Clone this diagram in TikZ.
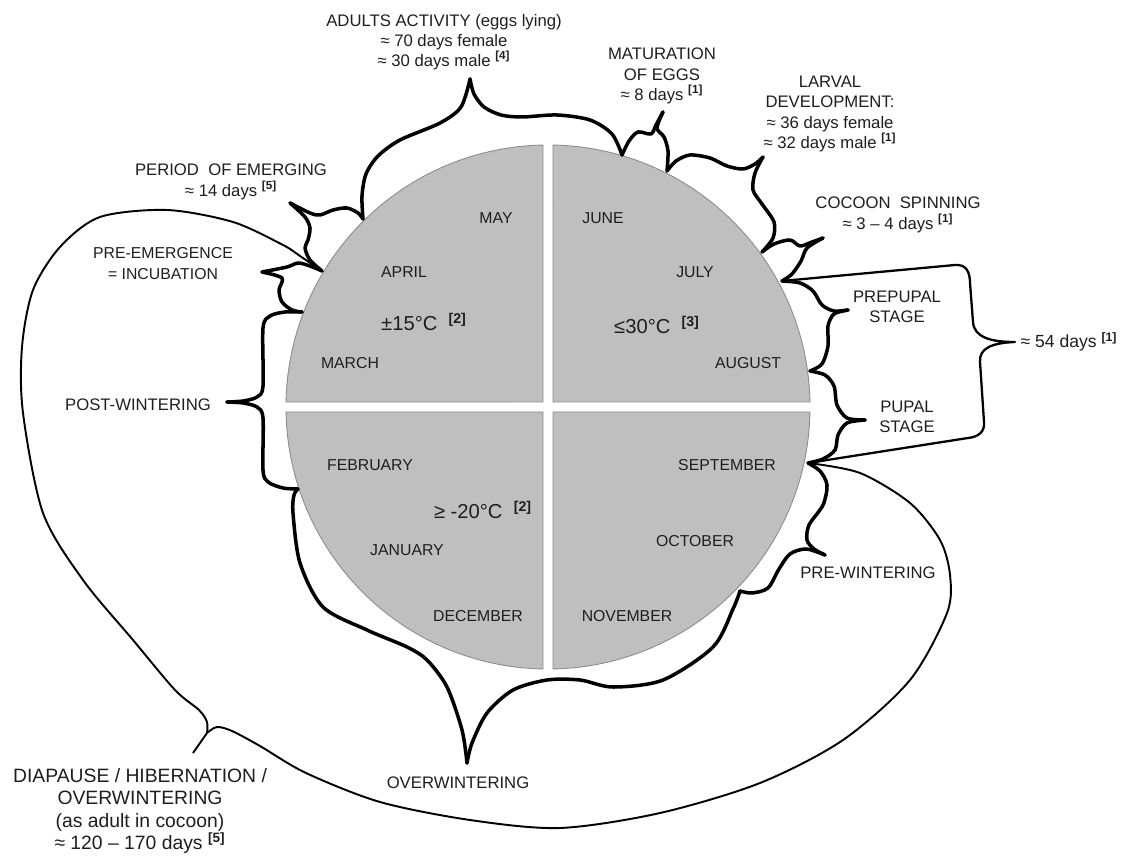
\documentclass[tikz,border=0pt]{standalone}
\usepackage{fontspec}
\setmainfont{Liberation Sans}
\usepackage{tikz}

\definecolor{qfill}{RGB}{191,191,191}
\definecolor{qedge}{RGB}{140,140,140}
\definecolor{ink}{RGB}{30,30,30}
\newcommand{\refno}[1]{\textsuperscript{\bfseries[#1]}}

\begin{document}
\begin{tikzpicture}[x=0.02cm, y=-0.02cm,
    quad/.style={fill=qfill, draw=qedge, line width=0.5pt},
    month/.style={font=\fontsize{9}{11}\selectfont, text=ink, inner sep=0pt},
    lbl/.style={font=\fontsize{9.5}{11.5}\selectfont, text=ink, align=center, inner sep=0pt},
    temp/.style={font=\fontsize{11.5}{13}\selectfont, text=ink, inner sep=0pt},
    braceline/.style={line width=2pt, line join=round, line cap=round},
    loopline/.style={line width=1.1pt, line join=round},
    bracketline/.style={line width=1.3pt, line join=round}]
  \useasboundingbox (0,0) rectangle (1128,857);

  % the year as four quarters
  \filldraw[quad] (543,402) -- (543,145.05) arc[start angle=268.91, end angle=181.09, radius=262] -- cycle;
  \filldraw[quad] (553,402) -- (809.95,402) arc[start angle=358.91, end angle=271.09, radius=262] -- cycle;
  \filldraw[quad] (553,412) -- (553,668.95) arc[start angle=88.91, end angle=1.09, radius=262] -- cycle;
  \filldraw[quad] (543,412) -- (286.05,412) arc[start angle=178.91, end angle=91.09, radius=262] -- cycle;

  % points on the rim
  \coordinate (pAdu) at (363,219);
  \coordinate (pMat) at (622,155);
  \coordinate (pLar) at (667,171);
  \coordinate (pCoc) at (762,252);
  \coordinate (pJul) at (782,281);
  \coordinate (pAug) at (810,371);
  \coordinate (pSep) at (808,463);
  \coordinate (pOct) at (740,591);
  \coordinate (pFeb) at (298,489);
  \coordinate (pMar) at (302,312);
  \coordinate (pApr) at (322,271);
  % brace tips
  \coordinate (tAdu) at (470,79);
  \coordinate (tMat) at (663,112);
  \coordinate (tLar) at (763,157);
  \coordinate (tCoc) at (823,238);
  \coordinate (tPre) at (848,310);
  \coordinate (tPup) at (865,420);
  \coordinate (tDays) at (1015,342);
  \coordinate (tPrw) at (825,555);
  \coordinate (tOvw) at (467,763);
  \coordinate (tPost) at (227,402);
  \coordinate (tInc) at (262,272);
  \coordinate (tEmg) at (290,203);
  \coordinate (jDia) at (207,733);
  \coordinate (tDia) at (193,753);

  % months
  \node[month] (may) at (496,218) {MAY};
  \node[month] (april) at (404,272) {APRIL};
  \node[month] (march) at (350,363) {MARCH};
  \node[month] (june) at (603,218) {JUNE};
  \node[month] (july) at (695,272) {JULY};
  \node[month] (august) at (748,363) {AUGUST};
  \node[month] (february) at (370,465) {FEBRUARY};
  \node[month] (january) at (407,550) {JANUARY};
  \node[month] (december) at (478,616) {DECEMBER};
  \node[month] (september) at (727,465) {SEPTEMBER};
  \node[month] (october) at (695,541) {OCTOBER};
  \node[month] (november) at (627,616) {NOVEMBER};
  \node[temp] (tspring) at (424,322) {±15°C~~\refno{2}};
  \node[temp] (tsummer) at (657,325) {≤30°C~~\refno{3}};
  \node[temp] (twinter) at (483,510) {≥ -20°C~~\refno{2}};

  % stage labels
  \node[lbl] (adults) at (444,42) {ADULTS ACTIVITY (eggs lying)\\≈ 70 days female\\≈ 30 days male \refno{4}};
  \node[lbl] (matur) at (662,76) {MATURATION\\OF EGGS\\≈ 8 days \refno{1}};
  \node[lbl] (larval) at (830,114) {LARVAL\\DEVELOPMENT:\\≈ 36 days female\\≈ 32 days male \refno{1}};
  \node[lbl] (cocoon) at (898,215) {COCOON\ \ SPINNING\\≈ 3 – 4 days \refno{1}};
  \node[lbl] (prepupal) at (897,307) {PREPUPAL\\STAGE};
  \node[lbl] (pupal) at (907,417) {PUPAL\\STAGE};
  \node[lbl, font=\fontsize{10}{12}\selectfont] (days54) at (1069,342) {≈ 54 days \refno{1}};
  \node[lbl] (prewint) at (868,573) {PRE-WINTERING};
  \node[lbl] (overwint) at (458,783) {OVERWINTERING};
  \node[lbl, font=\fontsize{11}{12.7}\selectfont] (diapause) at (140,811) {DIAPAUSE / HIBERNATION /\\OVERWINTERING\\(as adult in cocoon)\\≈ 120 – 170 days \refno{5}};
  \node[lbl] (postwint) at (138,405) {POST-WINTERING};
  \node[lbl, font=\fontsize{9}{12}\selectfont] (preemerg) at (163,264) {PRE-EMERGENCE\\= INCUBATION};
  \node[lbl] (emerging) at (231,182) {PERIOD\ \ OF EMERGING\\≈ 14 days \refno{5}};

  % braces round the rim
  \draw[braceline] plot[smooth] coordinates {(pAdu) (362,196) (366,174) (378,156) (400,140) (440,123) (461,107) (tAdu)};
  \draw[braceline] plot[smooth] coordinates {(tAdu) (474,94) (484,107) (501,115) (522,117) (557,115) (590,120) (612,134) (pMat)};
  \draw[braceline] plot[smooth] coordinates {(pMat) (629,141) (638,132) (651,134) (656,125) (tMat)};
  \draw[braceline] plot[smooth] coordinates {(tMat) (657,128) (664,137) (668,151) (pLar)};
  \draw[braceline] plot[smooth] coordinates {(pLar) (676,161) (690,155) (710,158) (727,166) (743,169) (755,164) (tLar)};
  \draw[braceline] plot[smooth] coordinates {(tLar) (755,173) (753,190) (762,204) (774,222) (773,238) (pCoc)};
  \draw[braceline] plot[smooth] coordinates {(pCoc) (774,244) (790,240) (800,246) (812,242) (tCoc)};
  \draw[braceline] plot[smooth] coordinates {(tCoc) (807,248) (801,261) (792,274) (pJul)};
  \draw[braceline] plot[smooth] coordinates {(pJul) (800,283) (813,291) (822,305) (834,311) (tPre)};
  \draw[braceline] plot[smooth] coordinates {(tPre) (834,314) (828,326) (828,346) (822,364) (pAug)};
  \draw[braceline] plot[smooth] coordinates {(pAug) (825,375) (834,386) (837,405) (847,418) (tPup)};
  \draw[braceline] plot[smooth] coordinates {(tPup) (847,423) (838,435) (835,450) (823,459) (pSep)};
  \draw[braceline] plot[smooth] coordinates {(pSep) (820,471) (827,485) (823,505) (809,525) (807,540) (814,549) (tPrw)};
  \draw[braceline] plot[smooth] coordinates {(tPrw) (806,549) (790,554) (779,569) (768,588) (752,593) (pOct)};
  \draw[braceline] plot[smooth] coordinates {(pOct) (733,609) (713,647) (663,680) (613,687) (580,680) (547,680) (513,690) (487,713) (472,743) (tOvw)};
  \draw[braceline] plot[smooth] coordinates {(tOvw) (462,730) (447,687) (427,660) (407,647) (367,630) (323,607) (300,563) (293,513) (294,495) (pFeb)};
  \draw[braceline] plot[smooth] coordinates {(pFeb) (283,488) (268,482) (263,470) (263,418) (257,407) (243,403) (tPost)};
  \draw[braceline] plot[smooth] coordinates {(tPost) (243,401) (257,397) (263,386) (263,328) (270,316) (285,312) (pMar)};
  \draw[braceline] plot[smooth] coordinates {(pMar) (292,310) (282,302) (279,290) (282,278) (tInc)};
  \draw[braceline] plot[smooth] coordinates {(tInc) (287,267) (298,263) (310,266) (pApr)};
  \draw[braceline] plot[smooth] coordinates {(pApr) (310,260) (305,248) (308,240) (310,228) (305,217) (tEmg)};
  \draw[braceline] plot[smooth] coordinates {(tEmg) (310,213) (320,215) (333,210) (347,208) (358,213) (pAdu)};

  % the 54 days bracket
  \draw[bracketline] (pJul) -- (955,265) .. controls (966,264) and (970,272) .. (970,283)
    -- (973,322) .. controls (974,337) and (990,342) .. (tDays)
    .. controls (992,343) and (979,348) .. (980,362) -- (984,422)
    .. controls (985,432) and (978,437) .. (968,438) -- (pSep);

  % long loop of the diapause
  \draw[loopline] plot[smooth] coordinates {(pApr) (300,256) (283,245) (233,222) (167,210) (100,217) (60,247) (33,290) (22,347) (23,413) (43,513) (83,580) (133,640) (175,690) (199,710) (207,722) (jDia)};
  \draw[loopline] (jDia) -- (tDia);
  \draw[loopline] plot[smooth] coordinates {(jDia) (217,727) (232,731) (260,746) (306,773) (380,802) (470,820) (560,828) (660,813) (760,783) (843,740) (910,680) (947,613) (950,575) (940,540) (910,503) (860,473) (pSep)};
\end{tikzpicture}
\end{document}
